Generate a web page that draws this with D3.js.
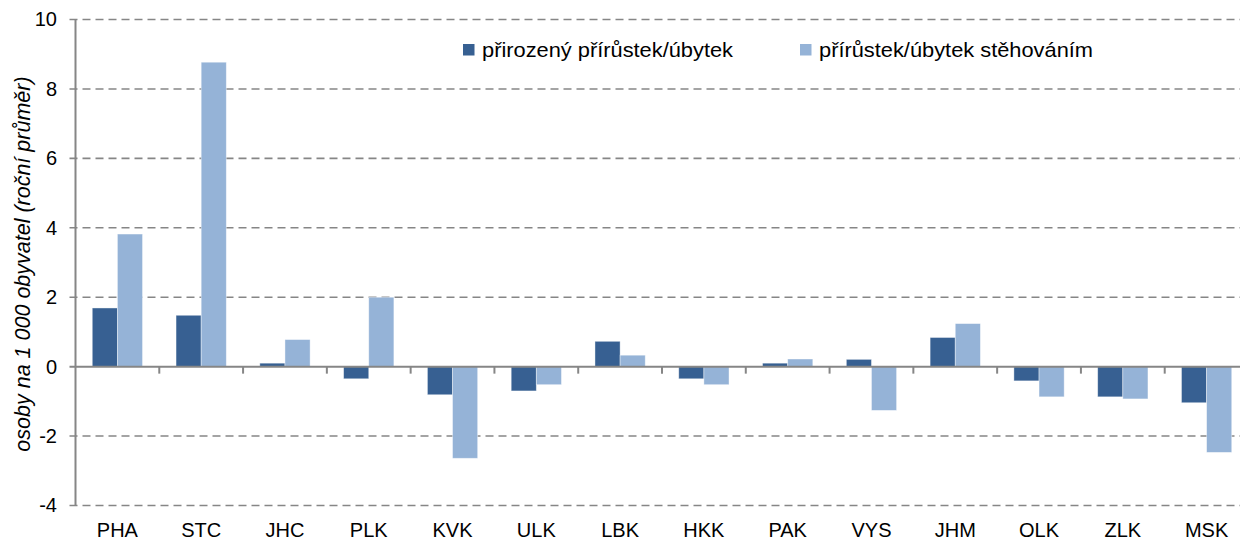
<!DOCTYPE html>
<html><head><meta charset="utf-8">
<script src="https://cdn.jsdelivr.net/npm/d3@7"></script>
<style>body{margin:0;background:#fff}svg{display:block;font-family:"Liberation Sans",Arial,sans-serif}</style>
</head><body><svg id="c" width="1240" height="541"></svg>
<script>
const categories = ["PHA","STC","JHC","PLK","KVK","ULK","LBK","HKK","PAK","VYS","JHM","OLK","ZLK","MSK"];
const seriesNames = ["přirozený přírůstek/úbytek","přírůstek/úbytek stěhováním"];
const natural = [1.69,1.48,0.10,-0.35,-0.81,-0.70,0.73,-0.35,0.10,0.21,0.84,-0.41,-0.87,-1.04];
const migration = [3.82,8.77,0.78,2.00,-2.64,-0.52,0.33,-0.52,0.22,-1.26,1.24,-0.87,-0.93,-2.47];
const yTicks = [-4,-2,0,2,4,6,8,10];
const yTitle = "osoby na 1 000 obyvatel (roční průměr)";
const colors = ["#376092","#95B3D7"];

const svg = d3.select("#c");
const L = 75.5, R = 1248.5, T = 19.5, B = 505.5;
const x0 = d3.scaleBand().domain(categories).range([L,R]).paddingInner(0.4).paddingOuter(0.2);
const x1 = d3.scaleBand().domain([0,1]).range([0,x0.bandwidth()]);
const y = d3.scaleLinear().domain([-4,10]).range([B,T]);
const step = x0.step();

// gridlines
svg.append("g").selectAll("line").data(yTicks.filter(d=>d!==0)).join("line")
  .attr("x1",L-6).attr("x2",R).attr("y1",d=>y(d)).attr("y2",d=>y(d))
  .attr("stroke","#868686").attr("stroke-width",1.6).attr("stroke-dasharray","8,5");

// y axis
const yAxis = d3.axisLeft(y).tickValues(yTicks).tickSize(0).tickPadding(18.5).tickFormat(d=>String(d));
const ga = svg.append("g").attr("transform",`translate(${L},0)`).call(yAxis);
ga.select(".domain").remove();
ga.selectAll("text").attr("font-size",20).attr("fill","#000").attr("font-family","Liberation Sans, Arial, sans-serif");
svg.append("line").attr("x1",L).attr("x2",L).attr("y1",T).attr("y2",B).attr("stroke","#868686").attr("stroke-width",2);

// bars
const data = categories.map((c,i)=>({c, v:[natural[i],migration[i]]}));
const g = svg.append("g");
g.selectAll("g").data(data).join("g").attr("transform",d=>`translate(${x0(d.c)},0)`)
  .selectAll("rect").data(d=>d.v.map((v,k)=>({v,k}))).join("rect")
  .attr("x",d=>x1(d.k)).attr("width",x1.bandwidth())
  .attr("y",d=>y(Math.max(0,d.v))).attr("height",d=>Math.abs(y(d.v)-y(0)))
  .attr("fill",d=>colors[d.k]).attr("stroke","#ffffff").attr("stroke-opacity",0.5).attr("stroke-width",0.8);

// zero line and category ticks
svg.append("line").attr("x1",L-6).attr("x2",R).attr("y1",y(0)).attr("y2",y(0)).attr("stroke","#868686").attr("stroke-width",2);
const bounds = d3.range(1,categories.length).map(i=>L+i*step);
svg.append("g").selectAll("line").data(bounds).join("line")
  .attr("x1",d=>d).attr("x2",d=>d).attr("y1",y(0)).attr("y2",y(0)+7)
  .attr("stroke","#868686").attr("stroke-width",2);

// category labels
const xAxis = d3.axisBottom(x0).tickSize(0).tickPadding(0);
const gx = svg.append("g").attr("transform",`translate(0,${B})`).call(xAxis);
gx.select(".domain").remove();
gx.selectAll("text").attr("font-size",20).attr("fill","#000").attr("dy",null).attr("y",31.5)
  .attr("font-family","Liberation Sans, Arial, sans-serif");

// y title
svg.append("text").attr("transform",`translate(30,264) rotate(-90)`).attr("text-anchor","middle")
  .attr("font-size",21.5).attr("font-style","italic").attr("fill","#000").text(yTitle);

// legend
const legX = [463,800];
const legW = [251,274];
const lg = svg.append("g");
seriesNames.forEach((n,k)=>{
  lg.append("rect").attr("x",legX[k]).attr("y",44).attr("width",11.5).attr("height",11.5).attr("fill",colors[k]);
  lg.append("text").attr("x",legX[k]+19).attr("y",57).attr("font-size",21)
    .attr("textLength",legW[k]).attr("lengthAdjust","spacingAndGlyphs").attr("fill","#000").text(n);
});
</script></body></html>
